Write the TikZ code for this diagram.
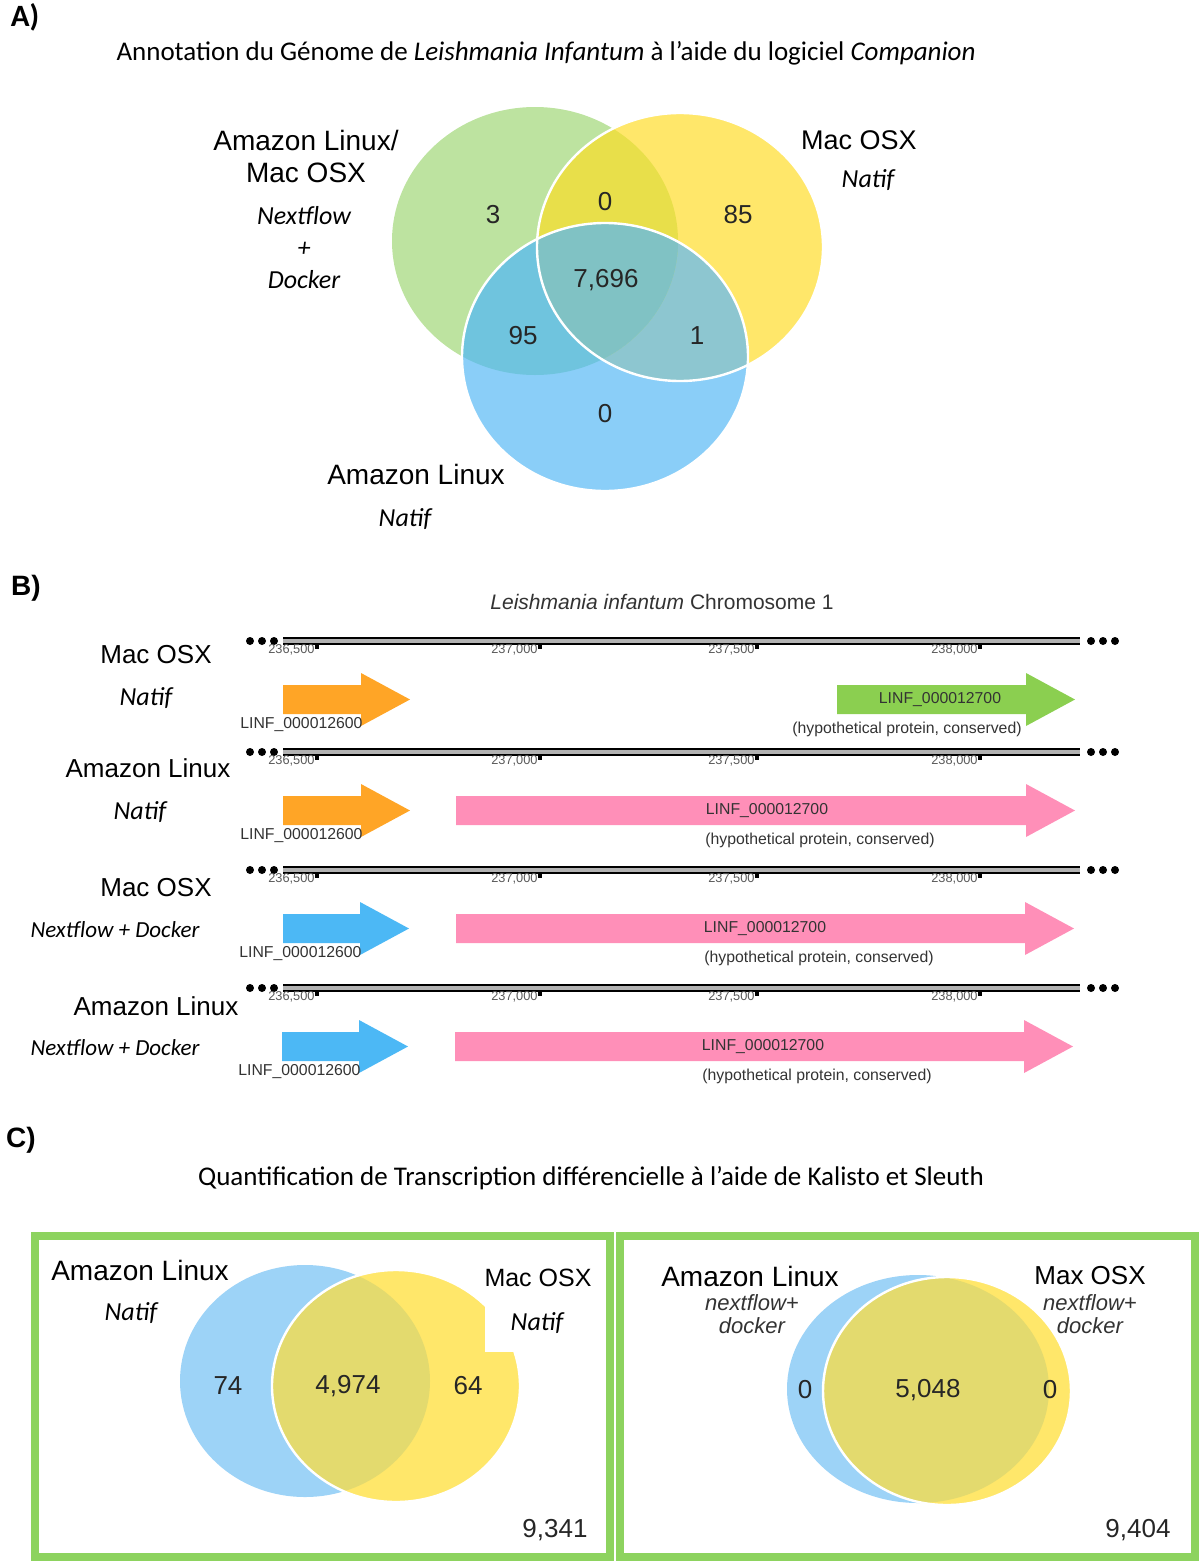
\documentclass[tikz,border=0pt]{standalone}
\usepackage{fontspec}
\setmainfont{Liberation Sans}
\newfontfamily\calib{Carlito}
\usetikzlibrary{positioning}

\definecolor{vgreen}{HTML}{BDE3A0}
\definecolor{vyellow}{HTML}{FFE76A}
\definecolor{vblue}{HTML}{8ACEF8}
\definecolor{vgy}{HTML}{E8DF4A}
\definecolor{vgb}{HTML}{6FC4DE}
\definecolor{vyb}{HTML}{8DC6D0}
\definecolor{vgyb}{HTML}{80C2C4}
\definecolor{lblue}{HTML}{9DD3F7}
\definecolor{lyb}{HTML}{E3DA6E}
\definecolor{gorange}{HTML}{FFA526}
\definecolor{ggreen}{HTML}{8BCF50}
\definecolor{gpink}{HTML}{FF8FB8}
\definecolor{gblue}{HTML}{4CB8F5}
\definecolor{boxgreen}{HTML}{8DD35F}

\tikzset{
  lab/.style={font=\fontsize{13}{16}\selectfont, inner sep=0},
  biglab/.style={font=\fontsize{14}{16}\selectfont, align=center, inner sep=0},
  itl/.style={font=\calib\itshape\fontsize{13}{16}\selectfont, align=center, inner sep=0},
  smit/.style={font=\itshape\fontsize{11}{11.5}\selectfont, text=black!80, align=center, inner sep=0},
  num/.style={font=\fontsize{13}{15}\selectfont, text=black!85, inner sep=0},
  ttl/.style={font=\calib\fontsize{13.5}{16}\selectfont, inner sep=0},
  panel/.style={font=\bfseries\fontsize{14}{16}\selectfont, inner sep=0},
  ticklab/.style={font=\fontsize{6.4}{7}\selectfont, text=black!65, inner sep=0},
  gname/.style={font=\fontsize{7.9}{9}\selectfont, text=black!80, inner sep=0},
}

% gene arrow: start, tip, axis y, colour
\newcommand\gene[4]{%
  \fill[#4] (#1,#3+44) -- (#2-49,#3+44) -- (#2-49,#3+32) -- (#2,#3+58.5)
    -- (#2-49,#3+85) -- (#2-49,#3+73) -- (#1,#3+73) -- cycle;}

\begin{document}
\begin{tikzpicture}[x=0.5pt,y=-0.5pt]
  \useasboundingbox (0,0) rectangle (1200,1563);

  % ---------- A ----------
  \node[panel, font=\calib\bfseries\fontsize{15.5}{17}\selectfont] (labA) at (25,17) {A)};
  \node[ttl] (titleA) at (546,53) {Annotation du Génome de \textit{Leishmania Infantum} à l’aide du logiciel \textit{Companion}};

  \fill[vgreen] (535,241) ellipse [x radius=143, y radius=134];
  \fill[vyellow] (680,247) ellipse [x radius=143, y radius=134];
  \fill[vblue] (605,357) ellipse [x radius=143, y radius=134];
  \begin{scope}
    \clip (680,247) ellipse [x radius=143, y radius=134];
    \fill[vyb] (605,357) ellipse [x radius=143, y radius=134];
  \end{scope}
  \begin{scope}
    \clip (535,241) ellipse [x radius=143, y radius=134];
    \fill[vgy] (680,247) ellipse [x radius=143, y radius=134];
    \fill[vgb] (605,357) ellipse [x radius=143, y radius=134];
    \clip (680,247) ellipse [x radius=143, y radius=134];
    \fill[vgyb] (605,357) ellipse [x radius=143, y radius=134];
  \end{scope}
  \draw[white, line width=1.2] (680,247) ellipse [x radius=143, y radius=134];
  \draw[white, line width=1.2] (605,357) ellipse [x radius=143, y radius=134];

  \node[num] (nG) at (493,215) {3};
  \node[num] (nGY) at (605,202) {0};
  \node[num] (nY) at (738,215) {85};
  \node[num] (nGYB) at (606,280) {7,696};
  \node[num] (nGB) at (523,336) {95};
  \node[num] (nYB) at (697,336) {1};
  \node[num] (nB) at (605,414) {0};

  \node[biglab] (aLinMac) at (306,156) {Amazon Linux/\\Mac OSX};
  \node[itl] (aNfDk) at (304,248) {Nextflow\\+\\Docker};
  \node[biglab, font=\fontsize{13.5}{16}\selectfont] (aMac) at (859,140) {Mac OSX};
  \node[itl] (aMacN) at (868,180) {Natif};
  \node[biglab] (aLin) at (416,474) {Amazon Linux};
  \node[itl] (aLinN) at (405,519) {Natif};

  % ---------- B ----------
  \node[panel] (labB) at (26,588) {B)};
  \node[font=\fontsize{10.5}{12}\selectfont, text=black!80, inner sep=0] (titleB) at (662,602) {\textit{Leishmania infantum} Chromosome 1};

  \foreach \y [count=\i] in {641,752,870,988} {
    \foreach \d in {250,262,274} \fill (\d,\y) circle [radius=4];
    \foreach \d in {1091,1103,1115} \fill (\d,\y) circle [radius=4];
    \draw[line width=1.4, double=black!30, double distance=1.6] (283,\y) -- (1080,\y);
    \foreach \t/\l in {317/{236,500},540/{237,000},757/{237,500},980/{238,000}} {
      \draw[line width=1.6] (\t,\y+2) -- (\t,\y+8);
      \node[ticklab, anchor=base east] (tk\i-\t) at (\t-2,\y+12) {\l};
    }
  }

  \gene{283}{410}{641}{gorange}
  \gene{837}{1075}{641}{ggreen}
  \gene{283}{410}{752}{gorange}
  \gene{456}{1075}{752}{gpink}
  \gene{283}{409}{870}{gblue}
  \gene{456}{1074}{870}{gpink}
  \gene{282}{408}{988}{gblue}
  \gene{455}{1073}{988}{gpink}

  \node[gname, anchor=base west] (g1a) at (240,728) {LINF\_000012600};
  \node[gname] (g1b) at (940,700) {LINF\_000012700};
  \node[gname] (p1) at (907,729) {(hypothetical protein, conserved)};
  \node[gname, anchor=base west] (g2a) at (240,839) {LINF\_000012600};
  \node[gname] (g2b) at (767,811) {LINF\_000012700};
  \node[gname] (p2) at (820,840) {(hypothetical protein, conserved)};
  \node[gname, anchor=base west] (g3a) at (239,957) {LINF\_000012600};
  \node[gname] (g3b) at (765,929) {LINF\_000012700};
  \node[gname] (p3) at (819,958) {(hypothetical protein, conserved)};
  \node[gname, anchor=base west] (g4a) at (238,1075) {LINF\_000012600};
  \node[gname] (g4b) at (763,1047) {LINF\_000012700};
  \node[gname] (p4) at (817,1076) {(hypothetical protein, conserved)};

  \node[lab] (bOS1) at (156,655) {Mac OSX};
  \node[itl] (bN1) at (146,698) {Natif};
  \node[lab] (bOS2) at (148,768) {Amazon Linux};
  \node[itl] (bN2) at (140,812) {Natif};
  \node[lab] (bOS3) at (156,888) {Mac OSX};
  \node[itl, font=\calib\itshape\fontsize{11.5}{14}\selectfont] (bN3) at (115,930) {Nextflow + Docker};
  \node[lab] (bOS4) at (156,1006) {Amazon Linux};
  \node[itl, font=\calib\itshape\fontsize{11.5}{14}\selectfont] (bN4) at (115,1048) {Nextflow + Docker};

  % ---------- C ----------
  \node[panel] (labC) at (21,1140) {C)};
  \node[ttl] (titleC) at (591,1178) {Quantification de Transcription différencielle à l’aide de Kalisto et Sleuth};

  \draw[boxgreen, line width=4] (35,1236) rectangle (610,1557);
  \draw[boxgreen, line width=4] (620,1236) rectangle (1195,1557);

  % left venn
  \fill[lblue] (305,1381) ellipse [x radius=125, y radius=116];
  \fill[vyellow] (396,1386) ellipse [x radius=124, y radius=116];
  \begin{scope}
    \clip (305,1381) ellipse [x radius=125, y radius=116];
    \fill[lyb] (396,1386) ellipse [x radius=124, y radius=116];
  \end{scope}
  \draw[white, line width=1.2] (396,1386) ellipse [x radius=124, y radius=116];
  \fill[white] (485,1262) rectangle (600,1352);

  \node[num] (c74) at (228,1386) {74};
  \node[num] (c4974) at (348,1386) {4,974};
  \node[num] (c64) at (468,1386) {64};
  \node[num] (c9341) at (555,1530) {9,341};
  \node[biglab] (cLin1) at (140,1270) {Amazon Linux};
  \node[itl] (cLin1N) at (131,1313) {Natif};
  \node[lab, font=\fontsize{12.5}{15}\selectfont] (cMac1) at (538,1278) {Mac OSX};
  \node[itl] (cMac1N) at (537,1323) {Natif};

  % right venn
  \fill[lblue] (918,1389) ellipse [x radius=131, y radius=114];
  \fill[vyellow] (947,1391) ellipse [x radius=124, y radius=114];
  \begin{scope}
    \clip (918,1389) ellipse [x radius=131, y radius=114];
    \fill[lyb] (947,1391) ellipse [x radius=124, y radius=114];
  \end{scope}
  \draw[white, line width=1.2] (947,1391) ellipse [x radius=124, y radius=114];

  \node[num] (c0a) at (805,1390) {0};
  \node[num] (c5048) at (928,1390) {5,048};
  \node[num] (c0b) at (1050,1390) {0};
  \node[num] (c9404) at (1138,1530) {9,404};
  \node[biglab] (cLin2) at (750,1276) {Amazon Linux};
  \node[smit] (cLin2N) at (752,1314) {nextflow+\\docker};
  \node[lab] (cMax2) at (1090,1276) {Max OSX};
  \node[smit] (cMax2N) at (1090,1314) {nextflow+\\docker};
\end{tikzpicture}
\end{document}
